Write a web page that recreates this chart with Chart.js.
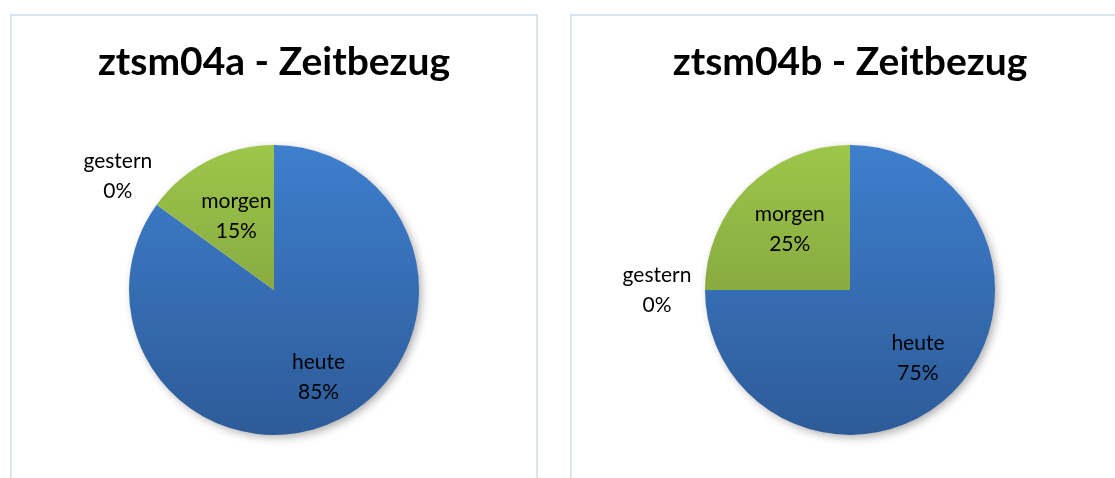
<!DOCTYPE html>
<html>
<head>
<meta charset="utf-8">
<script src="https://cdn.jsdelivr.net/npm/chart.js@4/dist/chart.umd.min.js"></script>
<style>
    body { margin: 0; background: #fff; width: 1115px; height: 478px; overflow: hidden; position: relative; }
    .panel { position: absolute; top: 14px; height: 480px; border: 2px solid #dbe5f1; box-sizing: border-box; }
    #panelA { left: 10px; width: 528px; }
    #panelB { left: 570px; width: 560px; }
    .panel canvas { position: absolute; left: 0; top: 0; }
</style>
</head>
<body>
<div class="panel" id="panelA"><canvas id="chartA" width="524" height="464"></canvas></div>
<div class="panel" id="panelB"><canvas id="chartB" width="556" height="464"></canvas></div>
<script>
const categories = ["heute", "gestern", "morgen"];
const valuesA = [85, 0, 15];
const valuesB = [75, 0, 25];
const titleA = "ztsm04a - Zeitbezug";
const titleB = "ztsm04b - Zeitbezug";

const FONT = "Lato, 'Open Sans', sans-serif";

// vertical gradient per slice, like the Excel fill
function sliceFill(ctx) {
    const chart = ctx.chart;
    const area = chart.chartArea;
    const top = ["#3e7fcd", "#a5a5a5", "#9dc64a"];
    const bottom = ["#2d5b98", "#7f7f7f", "#748f38"];
    const i = ctx.dataIndex;
    if (!area) return top[i];
    const g = chart.ctx.createLinearGradient(0, area.top, 0, area.bottom);
    g.addColorStop(0, top[i]);
    g.addColorStop(1, bottom[i]);
    return g;
}

const pieShadow = {
    id: "pieShadow",
    beforeDatasetsDraw(chart) {
        const arc = chart.getDatasetMeta(0).data[0];
        if (!arc) return;
        const c = chart.ctx;
        c.save();
        c.shadowColor = "rgba(0,0,0,0.35)";
        c.shadowBlur = 10;
        c.shadowOffsetX = 3;
        c.shadowOffsetY = 3;
        c.fillStyle = "#ffffff";
        c.beginPath();
        c.arc(arc.x, arc.y, arc.outerRadius - 1, 0, Math.PI * 2);
        c.fill();
        c.restore();
    }
};

// "best fit" style labels: inside for real slices, outside for empty ones
const sliceLabels = {
    id: "sliceLabels",
    afterDraw(chart) {
        const c = chart.ctx;
        const ds = chart.data.datasets[0];
        const total = ds.data.reduce((a, b) => a + b, 0);
        chart.getDatasetMeta(0).data.forEach((arc, i) => {
            const v = ds.data[i];
            const share = v / total;
            const mid = (arc.startAngle + arc.endAngle) / 2;
            const dist = v === 0 ? arc.outerRadius + 48 : arc.outerRadius * (0.55 + 0.15 * share);
            const x = arc.x + Math.cos(mid) * dist;
            const y = arc.y + Math.sin(mid) * dist;
            c.save();
            c.fillStyle = "#000";
            c.font = "21px " + FONT;
            c.textAlign = "center";
            c.textBaseline = "middle";
            c.fillText(chart.data.labels[i], x, y - 15);
            c.fillText(Math.round(share * 100) + "%", x, y + 15);
            c.restore();
        });
    }
};

function makePie(id, values, title) {
    return new Chart(document.getElementById(id), {
        type: "pie",
        data: {
            labels: categories,
            datasets: [{
                data: values,
                backgroundColor: sliceFill,
                borderWidth: 0,
                hoverOffset: 0,
                radius: 145
            }]
        },
        options: {
            responsive: false,
            animation: false,
            layout: { padding: { left: 0, right: 0, top: 0, bottom: 45 } },
            plugins: {
                legend: { display: false },
                tooltip: { enabled: false },
                title: {
                    display: true,
                    text: title,
                    color: "#000",
                    font: { family: FONT, size: 39, weight: "bold", lineHeight: 1.2 },
                    padding: { top: 23, bottom: 59 }
                }
            }
        },
        plugins: [pieShadow, sliceLabels]
    });
}

makePie("chartA", valuesA, titleA);
makePie("chartB", valuesB, titleB);
</script>
</body>
</html>
